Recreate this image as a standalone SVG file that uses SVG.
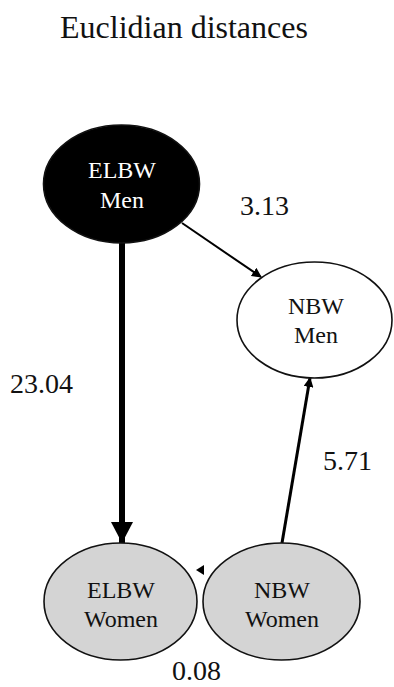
<svg xmlns="http://www.w3.org/2000/svg" width="394" height="687" viewBox="0 0 394 687">
<style>
text{font-family:"Liberation Serif","Times New Roman",serif;fill:#111}
.node text{font-size:24px;text-anchor:middle}
.lbl{font-size:28px}
.e{stroke:#111;stroke-width:1.6}
.c{stroke:#000;fill:none}
</style>
<defs>
<marker id="ah" markerWidth="10" markerHeight="10" refX="9" refY="5" orient="auto" markerUnits="userSpaceOnUse">
<path d="M0,0 L10,5 L0,10 Z" fill="#000"/>
</marker>
<marker id="ahBig" markerWidth="22" markerHeight="22" refX="21" refY="11" orient="auto" markerUnits="userSpaceOnUse">
<path d="M0,0 L21,11 L0,22 Z" fill="#000"/>
</marker>
</defs>
<rect width="394" height="687" fill="#fff"/>
<text x="60" y="38" style="font-size:32px">Euclidian distances</text>
<g id="connectors">
<line class="c" x1="122" y1="243" x2="122" y2="543" stroke-width="6" marker-end="url(#ahBig)"/>
<line class="c" x1="182" y1="223" x2="261" y2="277" stroke-width="2" marker-end="url(#ah)"/>
<line class="c" x1="282" y1="543" x2="310" y2="378" stroke-width="3" marker-end="url(#ah)"/>
<path d="M204,565 L196,570 L204,575 Z" fill="#000"/>
</g>
<g id="elbw-men" class="node">
<ellipse class="e" cx="121.5" cy="184" rx="78" ry="59" fill="#000"/>
<text x="122" y="178" style="fill:#fff">ELBW</text>
<text x="122" y="208" style="fill:#fff">Men</text>
</g>
<g id="nbw-men" class="node">
<ellipse class="e" cx="314.5" cy="320" rx="77.5" ry="58" fill="#fff"/>
<text x="316" y="314">NBW</text>
<text x="316" y="343">Men</text>
</g>
<g id="elbw-women" class="node">
<ellipse class="e" cx="120.5" cy="601.5" rx="76.5" ry="58.5" fill="#d4d4d4"/>
<text x="121" y="598">ELBW</text>
<text x="121" y="627">Women</text>
</g>
<g id="nbw-women" class="node">
<ellipse class="e" cx="281.5" cy="601.5" rx="78.5" ry="58.5" fill="#d4d4d4"/>
<text x="282" y="598">NBW</text>
<text x="282" y="627">Women</text>
</g>
<g id="labels">
<text class="lbl" x="10" y="393">23.04</text>
<text class="lbl" x="240" y="215">3.13</text>
<text class="lbl" x="323" y="470">5.71</text>
<text class="lbl" x="172" y="680">0.08</text>
</g>
</svg>
